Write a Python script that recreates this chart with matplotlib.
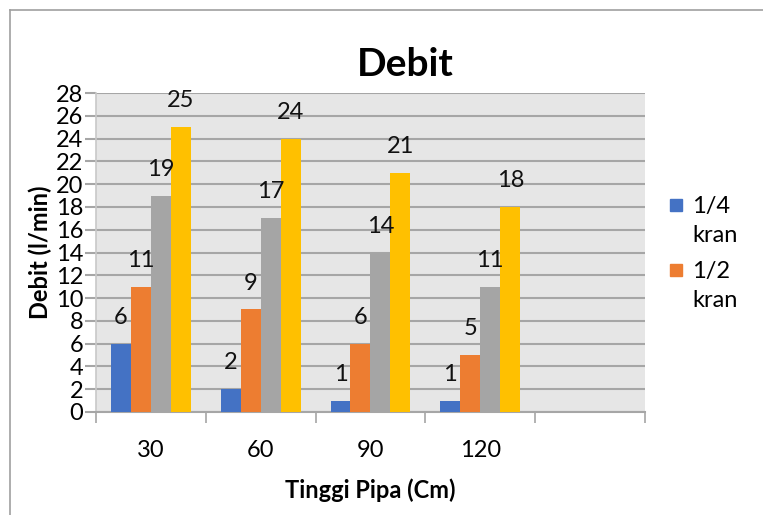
import numpy as np
import matplotlib
matplotlib.use("Agg")
import matplotlib.pyplot as plt
from matplotlib.lines import Line2D
from matplotlib.patches import Rectangle

plt.rcParams['font.family'] = ['Lato', 'DejaVu Sans']

# tinggi pipa (cm) and debit (l/min) per bukaan kran
tinggi = ["30", "60", "90", "120", ""]
seri = ["1/4\nkran", "1/2\nkran", "3/4\nkran", "1\nkran"]
debit_14 = [6, 2, 1, 1]
debit_12 = [11, 9, 6, 5]
debit_34 = [19, 17, 14, 11]
debit_1 = [25, 24, 21, 18]
yticks = list(range(0, 29, 2))

warna = ["#4472C4", "#ED7D31", "#A5A5A5", "#FFC000"]
grid_c = "#a6a6a6"
W, H = 763, 515

fig = plt.figure(figsize=(7.63, 5.15), dpi=100)
ax = fig.add_axes([0.1258, 0.2, 0.8453 - 0.1258, 0.8194 - 0.2])
ax.set_facecolor("#e6e6e6")

x = np.arange(1, 5)
w = 0.182
semua = [debit_14, debit_12, debit_34, debit_1]
for i, (vals, c) in enumerate(zip(semua, warna)):
    pos = x + (i - 1.5) * w
    ax.bar(pos, vals, w, color=c, zorder=3)
    for px, v in zip(pos, vals):
        ax.annotate(str(v), (px, v), xytext=(0, 19), textcoords="offset points",
                    ha="center", va="center", fontsize=17, color="#111111", zorder=4)

ax.set_xlim(0.5, 5.5)
ax.set_ylim(0, 28)
ax.set_yticks(yticks)
ax.set_xticks(np.arange(1, 6))
ax.set_xticklabels(tinggi)
ax.set_xticks(np.arange(0.5, 6, 1), minor=True)
ax.tick_params(axis="x", which="major", length=0, labelsize=17, pad=20)
ax.tick_params(axis="x", which="minor", length=8, width=1.2, color=grid_c)
ax.tick_params(axis="y", length=8, width=1.5, color=grid_c, labelsize=17, pad=1)
ax.yaxis.grid(True, color=grid_c, linewidth=1.5, zorder=1)
ax.set_axisbelow(True)
for s in ["top", "right"]:
    ax.spines[s].set_visible(False)
ax.spines["left"].set_color("#c8c8c8")
ax.spines["left"].set_linewidth(1.2)
ax.spines["bottom"].set_color(grid_c)
ax.spines["bottom"].set_linewidth(1.5)

ax.set_ylabel("Debit (l/min)", fontsize=17, fontweight="bold", labelpad=3)
ax.set_xlabel("Tinggi Pipa (Cm)", fontsize=17, fontweight="bold", labelpad=13)
fig.text(0.531, 1 - 64 / H, "Debit", ha="center", va="center", fontsize=28, fontweight="bold")

# legend: only the first two series fit
for k in range(2):
    top = 199 + k * 65
    fig.add_artist(Rectangle((670 / W, 1 - (top + 12) / H), 12 / W, 12 / H,
                             color=warna[k], transform=fig.transFigure))
    fig.text(692 / W, 1 - (top + 22) / H, seri[k], ha="left", va="center",
             fontsize=17, linespacing=1.5)

# chart border
fig.add_artist(Line2D([10 / W, 1], [1 - 10 / H, 1 - 10 / H], color="#a0a0a0", lw=1.2))
fig.add_artist(Line2D([10 / W, 10 / W], [0, 1 - 10 / H], color="#a0a0a0", lw=1.2))

fig.savefig("out.png", dpi=100)
